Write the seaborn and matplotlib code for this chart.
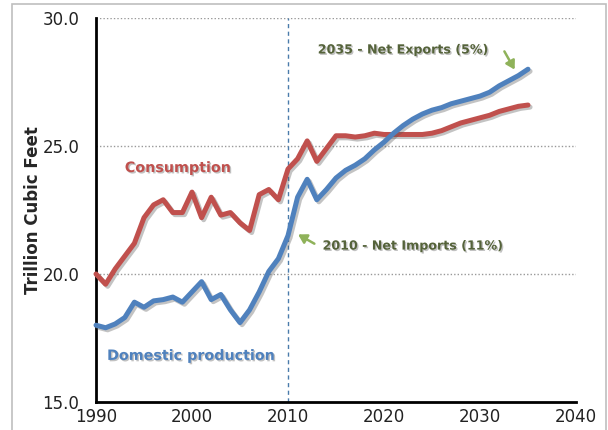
import numpy as np
import pandas as pd
import matplotlib
matplotlib.use("Agg")
import matplotlib.pyplot as plt
import matplotlib.patheffects as pe
from matplotlib.patches import Rectangle
import seaborn as sns

# US natural gas, trillion cubic feet per year
years = list(range(1990, 2036))
consumption = [20.0, 19.6, 20.2, 20.7, 21.2, 22.2, 22.7, 22.9, 22.4, 22.4,
               23.2, 22.2, 23.0, 22.3, 22.4, 22.0, 21.7, 23.1, 23.3, 22.9,
               24.1, 24.5, 25.2, 24.4, 24.9, 25.4, 25.4, 25.35, 25.4, 25.5,
               25.45, 25.45, 25.45, 25.45, 25.45, 25.5, 25.6, 25.75, 25.9, 26.0,
               26.1, 26.2, 26.35, 26.45, 26.55, 26.6]
production = [18.0, 17.9, 18.05, 18.3, 18.9, 18.7, 18.95, 19.0, 19.1, 18.9,
              19.3, 19.7, 19.0, 19.2, 18.6, 18.1, 18.6, 19.3, 20.1, 20.6,
              21.5, 23.0, 23.7, 22.9, 23.3, 23.75, 24.05, 24.25, 24.5, 24.85,
              25.15, 25.5, 25.8, 26.05, 26.25, 26.4, 26.5, 26.65, 26.75, 26.85,
              26.95, 27.1, 27.35, 27.55, 27.75, 28.0]
series_names = ["Consumption", "Domestic production"]
y_ticks = [15.0, 20.0, 25.0, 30.0]
x_ticks = [1990, 2000, 2010, 2020, 2030, 2040]

RED = "#c0504d"
BLUE = "#4f81bd"
TEXT_GREEN = "#55633a"
ARROW_GREEN = "#8fb25a"

df = pd.DataFrame({
    "year": years * 2,
    "value": consumption + production,
    "series": [series_names[0]] * len(years) + [series_names[1]] * len(years),
})

sns.set_style("white")
plt.rcParams["font.family"] = ["DejaVu Sans"]

fig = plt.figure(figsize=(6.08, 4.30), dpi=100)
ax = fig.add_axes([96 / 608, 1 - 402 / 430, 480 / 608, 384 / 430])

# light frame around the whole figure
fig.patches.append(Rectangle((12 / 608, -0.05), 594 / 608, 1.05 - 4 / 430,
                             transform=fig.transFigure, fill=False,
                             edgecolor="#bfbfbf", linewidth=1.2))

# dotted horizontal gridlines and the 2010 marker
for yv in [20.0, 25.0, 30.0]:
    ax.axhline(yv, color="#999999", linestyle=(0, (1, 1.5)), linewidth=1.0, zorder=1)
ax.axvline(2010, color="#4a7bab", linestyle=(0, (3, 2.5)), linewidth=1.0, zorder=1)

sns.lineplot(data=df, x="year", y="value", hue="series",
             palette={series_names[0]: RED, series_names[1]: BLUE},
             linewidth=3.6, legend=False, ax=ax, zorder=3)
for line in ax.get_lines()[-2:]:
    line.set_path_effects([pe.SimpleLineShadow(offset=(1.5, -1.5), alpha=0.35, shadow_color="#555555"),
                           pe.Normal()])
    line.set_solid_capstyle("round")
    line.set_solid_joinstyle("round")
    line.set_clip_on(False)

ax.set_xlim(1990, 2040)
ax.set_ylim(15, 30)
ax.set_xticks(x_ticks)
ax.set_yticks(y_ticks)
ax.set_yticklabels([f"{v:.1f}" for v in y_ticks])
ax.tick_params(axis="x", direction="in", length=5, width=1.5, colors="black",
               labelsize=12, pad=4, labelcolor="#222222")
ax.tick_params(axis="y", direction="out", length=5, width=1.5, colors="black",
               labelsize=12, pad=7, labelcolor="#222222")
for s in ["top", "right"]:
    ax.spines[s].set_visible(False)
for s in ["left", "bottom"]:
    ax.spines[s].set_color("black")
    ax.spines[s].set_linewidth(2.0)
ax.set_xlabel("")
ax.set_ylabel("Trillion Cubic Feet", fontsize=12, fontweight="bold")
ax.yaxis.set_label_coords(-54 / 480, 0.5)

shadow = [pe.withSimplePatchShadow(offset=(1, -1), shadow_rgbFace="#777777", alpha=0.45)]
ax.text(1993.0, 24.14, "Consumption", color=RED, fontsize=10.3, fontweight="bold",
        va="center", ha="left", path_effects=shadow)
ax.text(1991.15, 16.8, "Domestic production", color=BLUE, fontsize=10.3, fontweight="bold",
        va="center", ha="left", path_effects=shadow)
ax.text(2013.1, 28.75, "2035 - Net Exports (5%)", color=TEXT_GREEN, fontsize=9.1,
        fontweight="bold", va="center", ha="left", path_effects=shadow)
ax.text(2013.6, 21.09, "2010 - Net Imports (11%)", color=TEXT_GREEN, fontsize=9.1,
        fontweight="bold", va="center", ha="left", path_effects=shadow)

arrow_kw = dict(arrowstyle="-|>,head_length=0.5,head_width=0.3", color=ARROW_GREEN, lw=1.8)
ax.annotate("", xy=(2033.75, 27.89), xytext=(2032.4, 28.79), arrowprops=arrow_kw)
ax.annotate("", xy=(2010.8, 21.6), xytext=(2013.0, 21.13), arrowprops=arrow_kw)

fig.savefig("out.png", dpi=100)
